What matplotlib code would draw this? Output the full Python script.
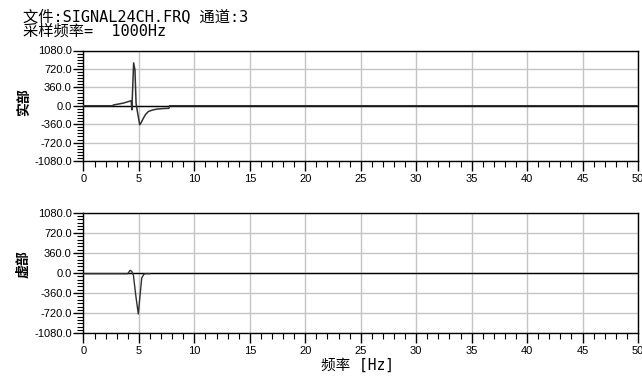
import matplotlib
matplotlib.use('Agg')
import matplotlib.pyplot as plt
from matplotlib.ticker import MultipleLocator, FormatStrFormatter

# real part of the spectrum (Hz, value)
freq_re = [0, 2.6, 2.7, 3.6, 4.30, 4.36, 4.52, 4.64, 4.74, 4.85, 5.07, 5.2,
           5.4, 5.6, 5.85, 6.2, 6.6, 7.2, 7.7, 7.75, 49.9]
real_part = [0, 0, 15, 52, 98, -80, 838, 700, 50, -100, -372, -330,
             -243, -170, -112, -85, -66, -55, -50, 0, 0]

# imaginary part of the spectrum (Hz, value)
freq_im = [0, 4.0, 4.1, 4.2, 4.35, 4.5, 4.7, 4.94, 5.1, 5.25, 5.45, 5.6, 6.0]
imag_part = [-12, -12, 20, 48, 30, -40, -380, -735, -400, -90, -20, -12, -12]

x_ticks = [0, 5, 10, 15, 20, 25, 30, 35, 40, 45, 50]
y_ticks = [-1080, -720, -360, 0, 360, 720, 1080]

title_lines = ['文件:SIGNAL24CH.FRQ 通道:3', '采样频率=  1000Hz']
x_label = '频率 [Hz]'
panel_labels = ['实部', '虚部']

MIXED = ['DejaVu Sans Mono', 'Noto Sans CJK SC']
W, H = 642, 376


def setup_axes(ax, label, label_y):
    ax.set_xlim(0, 50)
    ax.set_ylim(-1080, 1080)
    ax.set_xticks(x_ticks)
    ax.xaxis.set_minor_locator(MultipleLocator(1))
    ax.set_yticks(y_ticks)
    ax.yaxis.set_minor_locator(MultipleLocator(60))
    ax.yaxis.set_major_formatter(FormatStrFormatter('%.1f'))
    ax.set_axisbelow(True)
    ax.grid(True, which='major', color='#c4c4c4', lw=1)
    ax.tick_params(which='major', direction='out', length=7, width=1,
                   labelsize=8, color='black')
    ax.tick_params(which='minor', direction='out', length=4, width=0.8)
    ax.tick_params(axis='y', which='major', pad=1.5)
    ax.tick_params(axis='x', which='major', pad=2.5)
    for lab in ax.get_xticklabels() + ax.get_yticklabels():
        lab.set_fontfamily('Liberation Sans')
    for sp in ax.spines.values():
        sp.set_color('black')
        sp.set_linewidth(1)
    ax.axhline(0, color='black', lw=1, zorder=2)
    ax.set_ylabel(label, family='Noto Sans CJK SC', fontsize=10, fontweight='bold')
    ax.yaxis.set_label_coords(-0.095, label_y)


fig = plt.figure(figsize=(W / 100, H / 100), dpi=100)
ax_re = fig.add_axes([83.5 / W, 1 - 161 / H, 554.5 / W, 110.5 / H])
ax_im = fig.add_axes([83.5 / W, 1 - 333.3 / H, 554.5 / W, 120.6 / H])

setup_axes(ax_re, panel_labels[0], 0.53)
setup_axes(ax_im, panel_labels[1], 0.575)

ax_re.plot(freq_re, real_part, color='#303030', lw=1.1, zorder=3)
ax_im.plot(freq_im, imag_part, color='#303030', lw=1.0, zorder=3)

fig.text(22.7 / W, 1 - 17.5 / H, title_lines[0], family=MIXED, fontsize=11,
         ha='left', va='center')
fig.text(22.7 / W, 1 - 31.3 / H, title_lines[1], family=MIXED, fontsize=11,
         ha='left', va='center')
fig.text(358 / W, 1 - 365 / H, x_label, family=MIXED, fontsize=10.5,
         ha='center', va='center')

fig.savefig('out.png', dpi=100)
